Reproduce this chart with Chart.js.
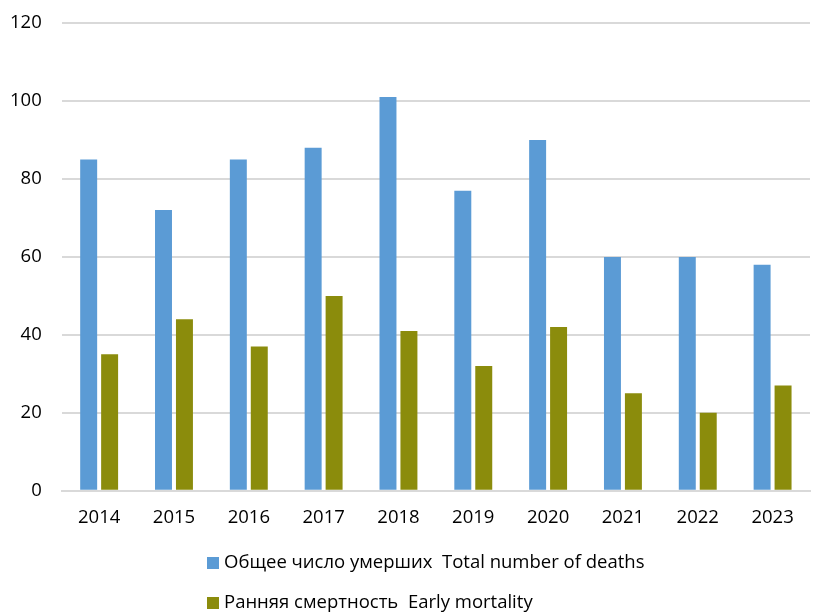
<!DOCTYPE html>
<html>
<head>
<meta charset="utf-8">
<script src="https://cdn.jsdelivr.net/npm/chart.js@4"></script>
<style>
  html, body { margin: 0; padding: 0; background: #fff; }
  #wrap { width: 814px; height: 613px; }
</style>
</head>
<body>
<div id="wrap"><canvas id="chartDeaths"></canvas></div>
<script>
const years = ['2014', '2015', '2016', '2017', '2018', '2019', '2020', '2021', '2022', '2023'];
const totalDeaths = [85, 72, 85, 88, 101, 77, 90, 60, 60, 58];
const earlyDeaths = [35, 44, 37, 50, 41, 32, 42, 25, 20, 27];
const yTicks = [0, 20, 40, 60, 80, 100, 120];

const fontFamily = '"Open Sans", sans-serif';
const fontSize = 18.5;

// legend stacked vertically, left aligned, under the axis
const stackedLegend = {
  id: 'stackedLegend',
  afterDraw(chart) {
    const ctx = chart.ctx;
    const x = 207;
    const rows = [563, 603];
    ctx.save();
    ctx.font = fontSize + 'px ' + fontFamily;
    ctx.textBaseline = 'middle';
    chart.data.datasets.forEach((ds, i) => {
      ctx.fillStyle = ds.backgroundColor;
      ctx.fillRect(x, rows[i] - 6, 12, 12);
      ctx.fillStyle = '#000';
      ctx.fillText(ds.label, x + 17, rows[i]);
    });
    ctx.restore();
  }
};

const dataBars = {
  labels: years,
  datasets: [
    {
      label: 'Общее число умерших  Total number of deaths',
      data: totalDeaths,
      backgroundColor: '#5b9bd5',
      categoryPercentage: 0.56,
      barPercentage: 0.81,
    },
    {
      label: 'Ранняя смертность  Early mortality',
      data: earlyDeaths,
      backgroundColor: '#8b8c0c',
      categoryPercentage: 0.56,
      barPercentage: 0.81,
    },
  ],
};

const configBars = {
  type: 'bar',
  data: dataBars,
  options: {
    responsive: true,
    maintainAspectRatio: false,
    animation: false,
    layout: { padding: { left: -10, right: 4, top: 23, bottom: 76 } },
    plugins: {
      legend: { display: false },
      tooltip: { enabled: false },
    },
    scales: {
      x: {
        grid: { display: false },
        border: { color: '#d9d9d9', width: 2 },
        ticks: { color: '#000', font: { family: fontFamily, size: fontSize }, padding: 8 },
      },
      y: {
        min: 0,
        max: 120,
        afterBuildTicks: (axis) => { axis.ticks = yTicks.map(v => ({ value: v })); },
        afterFit: (axis) => { axis.paddingTop = 0; },
        grid: { color: '#d9d9d9', lineWidth: 2, drawTicks: false },
        border: { display: false },
        ticks: { color: '#000', font: { family: fontFamily, size: fontSize }, padding: 20 },
      },
    },
  },
  plugins: [stackedLegend],
};

var chartDeaths = new Chart(document.getElementById('chartDeaths'), configBars);
</script>
</body>
</html>
